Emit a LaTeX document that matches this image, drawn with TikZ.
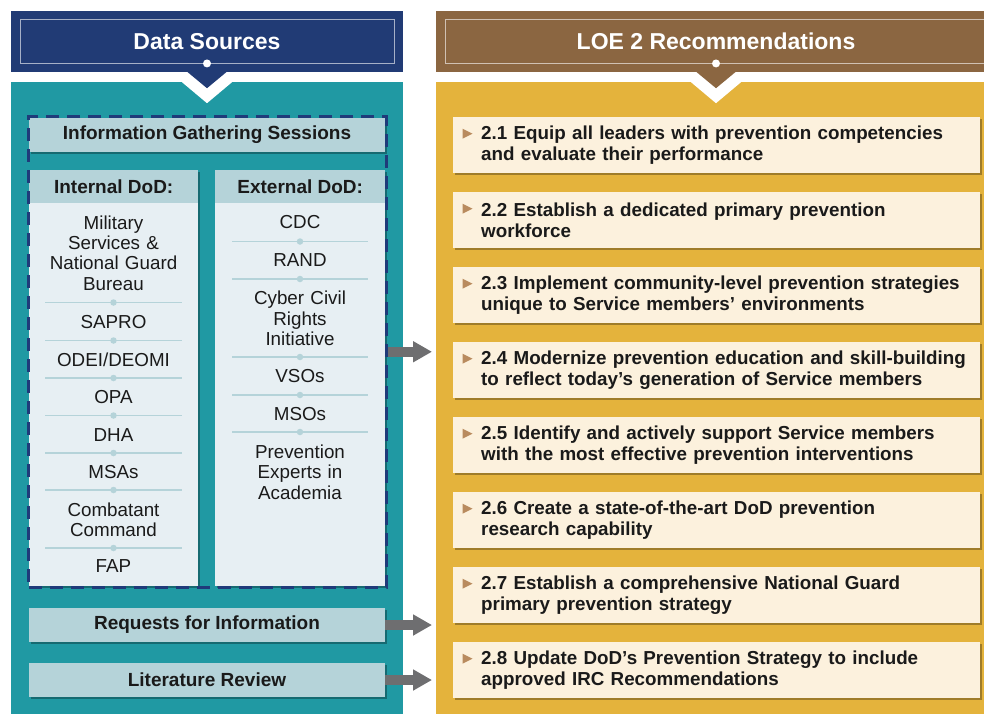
\documentclass[tikz,border=0pt]{standalone}
\usepackage{fontspec}
\setmainfont{Liberation Sans}
\usetikzlibrary {arrows.meta,
                 positioning,
                 shadows}
\definecolor{navyhead}{HTML}{213B75}
\definecolor{tealpanel}{HTML}{2099A3}
\definecolor{bandblue}{HTML}{B5D3D9}
\definecolor{colbody}{HTML}{E7EFF3}
\definecolor{dashnavy}{HTML}{1F3B7A}
\definecolor{brownhead}{HTML}{8B6641}
\definecolor{goldpanel}{HTML}{E4B33C}
\definecolor{cream}{HTML}{FCF1DD}
\definecolor{markbrown}{HTML}{B98B5E}
\definecolor{arrowgrey}{HTML}{6E6E70}
\definecolor{textblack}{HTML}{1A1A1A}
\tikzset{
        head/.style={minimum height=61pt, text=white, inner sep=0pt,
                     font=\fontsize{23}{26}\selectfont\bfseries},
        headframe/.style={draw=white, draw opacity=0.6, line width=0.9pt,
                          minimum height=44pt},
        panel/.style={anchor=north west, minimum height=640pt},
        shade/.style={drop shadow={shadow xshift=1.5pt, shadow yshift=-1.5pt,
                      opacity=0.3, fill=black}},
        band/.style={shade, fill=bandblue, text=textblack, minimum width=356pt,
                     minimum height=34pt, inner sep=0pt,
                     font=\fontsize{19}{21}\selectfont\bfseries},
        colbox/.style={shade, fill=colbody, anchor=north west,
                       minimum height=416pt},
        colhead/.style={fill=bandblue, text=textblack, anchor=north west,
                        minimum height=33pt, inner sep=0pt,
                        font=\fontsize{19}{21}\selectfont\bfseries},
        entry/.style={align=center, text width=160pt, inner sep=0pt,
                      text=textblack, font=\fontsize{18.8}{20.3}\selectfont},
        sep/.style={draw=bandblue, line width=1.3pt},
        dot/.style={circle, fill=bandblue, inner sep=0pt, minimum size=6.5pt},
        igsframe/.style={draw=dashnavy, line width=3pt, dash pattern=on 13pt off 8pt},
        rec/.style={shade, fill=cream, minimum width=527pt, minimum height=56pt},
        rectext/.style={text width=499pt, align=left, inner sep=0pt, text=textblack,
                        font=\fontsize{18.8}{21}\selectfont\bfseries},
        recmark/.style={fill=markbrown},
        myarrow/.style={draw=arrowgrey, line width=10pt, shorten >=4pt,
                        -{Triangle[length=19pt, width=20pt]}},
 }
\begin{document}
\begin{tikzpicture}[x=1pt, y=-1pt, node distance=18.6pt]
    \useasboundingbox (0,0) rectangle (984,713);

    % panels and headers
    \node[panel, fill=tealpanel, minimum width=392pt] (lp) at (11,82) {};
    \node[panel, fill=goldpanel, minimum width=560pt] (rp) at (436,82) {};
    \node[head, fill=navyhead, minimum width=392pt] (ds) at (207,41.5) {Data Sources};
    \node[head, fill=brownhead, minimum width=560pt] (loe) at (716,41.5) {LOE 2 Recommendations};
    \node[headframe, minimum width=374pt] (dsf) at (207,41) {};
    \node[headframe, minimum width=542pt] (loef) at (716,41) {};
    \fill[white] (dsf.south) circle (4pt);
    \fill[white] (loef.south) circle (4pt);

    \fill[white] (ds.south) ++(-25,10) -- ++(50,0) -- ++(-25,21) -- cycle;
    \fill[navyhead] (ds.south) ++(-20.5,-1) -- ++(41,0) -- ++(-20.5,17) -- cycle;
    \fill[white] (loe.south) ++(-25,10) -- ++(50,0) -- ++(-25,21) -- cycle;
    \fill[brownhead] (loe.south) ++(-20.5,-1) -- ++(41,0) -- ++(-20.5,17) -- cycle;

    % data sources
    \node[band] (igsb) at (207,135) {Information Gathering Sessions};
    \node[colbox, minimum width=169pt] (int) at (29,170) {};
    \node[colhead, minimum width=169pt] (inth) at (29,170) {Internal DoD:};
    \node[colbox, minimum width=170pt] (ext) at (215,170) {};
    \node[colhead, minimum width=170pt] (exth) at (215,170) {External DoD:};

    \node[entry] (mil) at (113.5,253) {Military\\Services \&\\National Guard\\Bureau};
    \node[entry] (sapro) at (113.5,322) {SAPRO};
    \node[entry] (odei) at (113.5,359.5) {ODEI/DEOMI};
    \node[entry] (opa) at (113.5,397) {OPA};
    \node[entry] (dha) at (113.5,435) {DHA};
    \node[entry] (msa) at (113.5,472) {MSAs};
    \node[entry] (cocom) at (113.5,520) {Combatant\\Command};
    \node[entry] (fap) at (113.5,566.5) {FAP};

    \node[entry] (cdc) at (300,222.5) {CDC};
    \node[entry] (rand) at (300,260.5) {RAND};
    \node[entry] (ccri) at (300,318.5) {Cyber Civil\\Rights\\Initiative};
    \node[entry] (vso) at (300,376.5) {VSOs};
    \node[entry] (mso) at (300,414) {MSOs};
    \node[entry] (pea) at (300,472) {Prevention\\Experts in\\Academia};

    \draw[sep] (45,302.5) -- (182,302.5) node[dot, midway] {};
    \draw[sep] (45,340.5) -- (182,340.5) node[dot, midway] {};
    \draw[sep] (45,378) -- (182,378) node[dot, midway] {};
    \draw[sep] (45,415.5) -- (182,415.5) node[dot, midway] {};
    \draw[sep] (45,453) -- (182,453) node[dot, midway] {};
    \draw[sep] (45,490) -- (182,490) node[dot, midway] {};
    \draw[sep] (45,548) -- (182,548) node[dot, midway] {};

    \draw[sep] (232,241.5) -- (368,241.5) node[dot, midway] {};
    \draw[sep] (232,279) -- (368,279) node[dot, midway] {};
    \draw[sep] (232,357) -- (368,357) node[dot, midway] {};
    \draw[sep] (232,395) -- (368,395) node[dot, midway] {};
    \draw[sep] (232,432) -- (368,432) node[dot, midway] {};

    \node[igsframe, minimum width=357.5pt, minimum height=470.5pt] (igs) at (207.25,351.75) {};

    \node[band] (rfi) at (207,625) {Requests for Information};
    \node[band] (lit) at (207,680) {Literature Review};

    % recommendations
    \node[rec, anchor=north west] (r1) at (453,117) {};
    \node[rec, below=of r1] (r2) {};
    \node[rec, below=of r2] (r3) {};
    \node[rec, below=of r3] (r4) {};
    \node[rec, below=of r4] (r5) {};
    \node[rec, below=of r5] (r6) {};
    \node[rec, below=of r6] (r7) {};
    \node[rec, below=of r7] (r8) {};

    \node[rectext, right=28pt of r1.west] (t1) {2.1 Equip all leaders with prevention competencies\\and evaluate their performance};
    \node[rectext, right=28pt of r2.west] (t2) {2.2 Establish a dedicated primary prevention\\workforce};
    \node[rectext, right=28pt of r3.west] (t3) {2.3 Implement community-level prevention strategies\\unique to Service members’ environments};
    \node[rectext, right=28pt of r4.west] (t4) {2.4 Modernize prevention education and skill-building\\to reflect today’s generation of Service members};
    \node[rectext, right=28pt of r5.west] (t5) {2.5 Identify and actively support Service members\\with the most effective prevention interventions};
    \node[rectext, right=28pt of r6.west] (t6) {2.6 Create a state-of-the-art DoD prevention\\research capability};
    \node[rectext, right=28pt of r7.west] (t7) {2.7 Establish a comprehensive National Guard\\primary prevention strategy};
    \node[rectext, right=28pt of r8.west] (t8) {2.8 Update DoD’s Prevention Strategy to include\\approved IRC Recommendations};

    \fill[recmark] (r1.west) ++(9.5,-16.5) -- ++(10,5) -- ++(-10,5) -- cycle;
    \fill[recmark] (r2.west) ++(9.5,-16.5) -- ++(10,5) -- ++(-10,5) -- cycle;
    \fill[recmark] (r3.west) ++(9.5,-16.5) -- ++(10,5) -- ++(-10,5) -- cycle;
    \fill[recmark] (r4.west) ++(9.5,-16.5) -- ++(10,5) -- ++(-10,5) -- cycle;
    \fill[recmark] (r5.west) ++(9.5,-16.5) -- ++(10,5) -- ++(-10,5) -- cycle;
    \fill[recmark] (r6.west) ++(9.5,-16.5) -- ++(10,5) -- ++(-10,5) -- cycle;
    \fill[recmark] (r7.west) ++(9.5,-16.5) -- ++(10,5) -- ++(-10,5) -- cycle;
    \fill[recmark] (r8.west) ++(9.5,-16.5) -- ++(10,5) -- ++(-10,5) -- cycle;

    \draw[myarrow] (igs.east) -- (igs.east -| rp.west);
    \draw[myarrow] (rfi.east) -- (rfi.east -| rp.west);
    \draw[myarrow] (lit.east) -- (lit.east -| rp.west);
\end{tikzpicture}
\end{document}
